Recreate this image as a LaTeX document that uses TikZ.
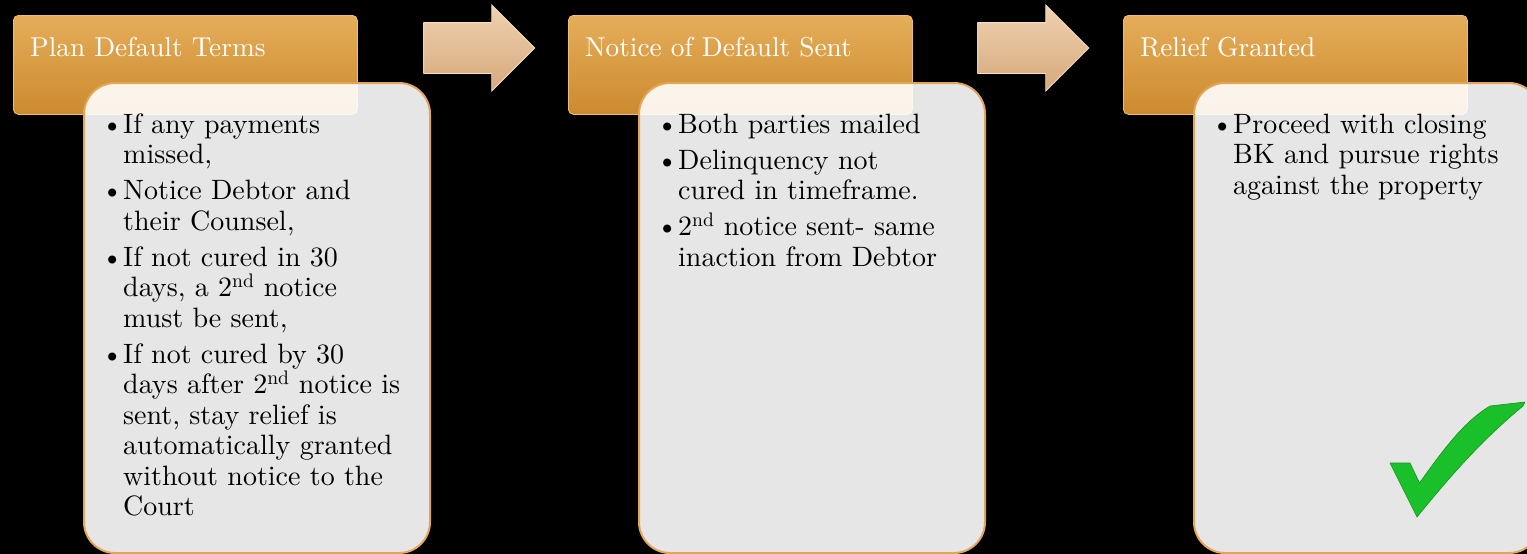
\documentclass[tikz,border=0pt]{standalone}
\usepackage{fontspec}
\setmainfont{lmroman10-regular}[Extension=.otf]
\usetikzlibrary{shapes.arrows}

\definecolor{hdrtop}{RGB}{229,173,90}
\definecolor{hdrbot}{RGB}{204,138,46}
\definecolor{hdrrim}{RGB}{236,190,120}
\definecolor{bodyrim}{RGB}{226,166,88}
\definecolor{arrtop}{RGB}{239,210,176}
\definecolor{arrbot}{RGB}{214,168,124}
\definecolor{arrrim}{RGB}{244,222,196}
\definecolor{tick}{RGB}{26,192,42}
\definecolor{tickdark}{RGB}{16,150,30}

\newcommand\itembullet{\leavevmode\llap{\textbullet}}
\newcommand\bodyfont{\fontsize{28}{30.5}\selectfont}

\tikzset{
  hdr/.style={anchor=north west, rounded corners=5pt, minimum width=344pt,
    minimum height=99pt, inner sep=0pt, top color=hdrtop, bottom color=hdrbot,
    draw=hdrrim, line width=0.8pt},
  hdrtext/.style={anchor=base west, inner sep=0pt, text=white,
    font=\fontsize{27.3}{30}\selectfont},
  bodybox/.style={anchor=north west, rounded corners=31pt, minimum width=346pt,
    minimum height=470pt, inner sep=0pt, draw=bodyrim, line width=2pt,
    fill=white, fill opacity=0.9},
  bodytext/.style={anchor=base west, inner sep=0pt, text=black},
  blockarrow/.style={single arrow, single arrow head extend=17.5pt,
    minimum height=111pt, inner xsep=0pt, inner ysep=25pt, shade,
    top color=arrtop, bottom color=arrbot, draw=arrrim, line width=0.8pt},
}

\begin{document}
\begin{tikzpicture}[x=1pt, y=-1pt]
  \useasboundingbox (0,0) rectangle (1527,554);
  \fill[black] (0,0) rectangle (1527,554);
  \clip (0,0) rectangle (1527,554);

  % stage headers
  \node[hdr] (h1) at (13,15) {};
  \node[hdr] (h2) at (568,15) {};
  \node[hdr] (h3) at (1123,15) {};
  \node[hdrtext] (h1t) at (30,56) {Plan Default Terms};
  \node[hdrtext] (h2t) at (585,56) {Notice of Default Sent};
  \node[hdrtext] (h3t) at (1140,56) {Relief Granted};

  % block arrows between stages
  \node[blockarrow] (a1) at (466.5,48) {};
  \node[blockarrow] (a2) at (1020.5,48) {};

  % detail panels
  \node[bodybox] (b1) at (83,82) {};
  \node[bodybox] (b2) at (638,82) {};
  \node[bodybox] (b3) at (1193,82) {};

  \node[bodytext] (t1) at (123,133) {\parbox[t]{300pt}{\raggedright\bodyfont
    \itembullet If any payments\\
    missed,\\[5.5pt]
    \itembullet Notice Debtor and\\
    their Counsel,\\[5.5pt]
    \itembullet If not cured in 30\\
    days, a 2\textsuperscript{nd} notice\\
    must be sent,\\[5.5pt]
    \itembullet If not cured by 30\\
    days after 2\textsuperscript{nd} notice is\\
    sent, stay relief is\\
    automatically granted\\
    without notice to the\\
    Court}};

  \node[bodytext] (t2) at (678,133) {\parbox[t]{300pt}{\raggedright\bodyfont
    \itembullet Both parties mailed\\[5.5pt]
    \itembullet Delinquency not\\
    cured in timeframe.\\[5.5pt]
    \itembullet 2\textsuperscript{nd} notice sent- same\\
    inaction from Debtor}};

  \node[bodytext] (t3) at (1233,133) {\parbox[t]{300pt}{\raggedright\bodyfont
    \itembullet Proceed with closing\\
    BK and pursue rights\\
    against the property}};

  % check mark
  \fill[tick, draw=tickdark, line width=0.6pt, line join=round]
    (1390,463) -- (1410,463) -- (1419.5,483)
    .. controls (1445,447) and (1465,421) .. (1490,406)
    -- (1525,402) -- (1523,406)
    .. controls (1482,440) and (1452,474) .. (1417,517) -- cycle;
\end{tikzpicture}
\end{document}
